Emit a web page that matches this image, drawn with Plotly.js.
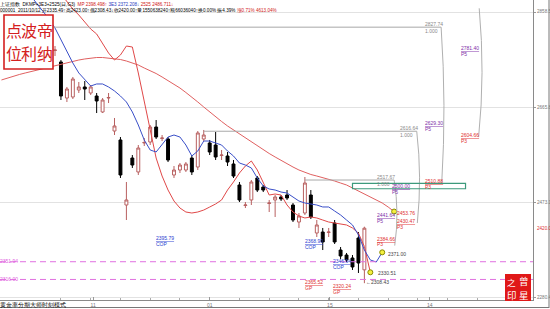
<!DOCTYPE html>
<html><head><meta charset="utf-8">
<script src="https://cdn.plot.ly/plotly-3.0.1.min.js"></script>
<style>html,body{margin:0;padding:0;background:#fff;}#chart{width:550px;height:309px;}</style>
</head><body><div id="chart"></div>
<script>
// ---- daily candles (index 0 .. 52, last = 2011/10/12) ----
const openP  = [2780.4,2757.1,2684.0,2686.1,2700.3,2706.4,2694.2,2688.1,2655.7,2684.0,
                2617.1,2598.9,2467.0,2562.3,2534.0,2592.8,2594.8,2625.2,2601.9,2600.9,
                2527.9,2538.0,2538.0,2562.3,2544.1,2600.9,2592.8,2588.7,2567.4,2566.4,
                2550.2,2507.6,2466.0,2477.2,2521.8,2503.5,2470.1,2477.2,2483.2,2487.3,
                2467.0,2432.5,2450.8,2487.3,2410.2,2412.2,2411.2,2430.5,2375.7,2365.6,
                2359.5,2400.1,2335.49];
const highP  = [2789.5,2761.1,2706.4,2726.7,2716.5,2718.5,2710.4,2694.2,2684.0,2694.2,
                2643.5,2604.9,2513.7,2568.4,2588.7,2602.9,2629.3,2639.4,2609.0,2604.9,
                2546.1,2552.2,2554.2,2568.4,2617.1,2619.2,2598.9,2615.1,2578.6,2574.5,
                2558.3,2513.7,2473.1,2517.7,2525.8,2507.6,2477.2,2487.3,2487.3,2497.4,
                2471.1,2450.8,2523.8,2497.4,2436.6,2420.4,2420.4,2436.6,2381.8,2369.7,
                2365.6,2412.2,2423.00];
const lowP   = [2769.3,2680.0,2675.9,2682.0,2694.2,2680.0,2690.1,2653.6,2653.6,2673.9,
                2609.0,2521.8,2436.6,2542.1,2527.9,2586.7,2588.7,2600.9,2596.8,2554.2,
                2521.8,2531.9,2534.0,2527.9,2538.0,2596.8,2568.4,2558.3,2558.3,2546.1,
                2521.8,2473.1,2460.9,2467.0,2493.3,2493.3,2452.8,2442.7,2475.1,2477.2,
                2432.5,2420.4,2446.8,2438.6,2402.1,2375.7,2402.1,2387.9,2357.5,2351.4,
                2335.2,2329.1,2308.43];
const closeP = [2781.4,2688.1,2702.3,2722.6,2706.4,2702.3,2706.4,2678.0,2680.0,2685.1,
                2627.3,2527.9,2477.2,2548.1,2582.6,2593.8,2625.2,2604.9,2602.9,2558.3,
                2538.0,2548.1,2550.2,2534.0,2613.1,2609.0,2574.5,2564.4,2568.4,2554.2,
                2525.8,2477.2,2467.0,2513.7,2497.4,2497.4,2471.1,2483.2,2479.2,2481.2,
                2436.6,2444.7,2511.6,2442.7,2426.5,2392.0,2412.2,2392.0,2363.6,2355.5,
                2341.3,2349.4,2420.00];

// ---- indicator lines, x = day index ----
const longMaStart = -9;
const longMa = [2720.6,2724.6,2728.7,2731.7,2734.8,2737.8,2740.8,2743.9,2746.9,
  2750.0,2753.0,2756.1,2759.1,2761.1,2763.2,2765.2,2766.2,2766.2,2765.2,
  2764.2,2762.1,2759.1,2755.0,2751.0,2744.9,2739.8,2733.7,2726.7,2719.6,
  2712.5,2704.3,2695.2,2686.1,2676.0,2665.8,2655.7,2645.5,2636.4,2627.3,
  2619.2,2611.0,2602.9,2594.8,2586.7,2578.6,2571.5,2564.4,2557.3,2550.2,
  2544.1,2538.0,2532.9,2528.9,2525.8,2522.8,2519.8,2515.7,2511.6,2507.6,
  2501.5,2495.4,2489.3,2483.2,2477.2,2471.1,2462.9,2453.76];
const blueMaStart = -4;
const blueMa = [2890.0,2874.7,2858.5,2844.3,
  2826.0,2801.7,2777.4,2755.0,2734.8,2720.6,2708.4,2712.5,2712.5,2706.4,
  2698.3,2688.1,2676.0,2655.7,2629.3,2598.9,2578.6,2574.5,2588.7,2604.9,
  2609.0,2604.9,2588.7,2566.4,2576.5,2596.8,2596.8,2592.8,2588.7,2576.5,
  2566.4,2552.2,2548.1,2542.1,2521.8,2505.6,2499.5,2497.4,2493.3,2491.3,
  2483.2,2475.1,2471.1,2469.1,2467.0,2463.0,2463.0,2454.8,2446.8,2436.6,
  2426.5,2406.2,2375.7,2355.5,2351.4,2371.00];
const redLineStart = 1;
const redLine = [2895.0,2878.8,2864.6,2852.4,2838.2,2824.0,2813.9,2795.6,2775.3,
  2761.1,2771.3,2789.5,2787.5,2734.8,2675.9,2619.2,2562.3,2525.8,2497.4,
  2475.1,2460.9,2452.8,2450.8,2452.8,2456.8,2462.9,2469.1,2477.2,2497.4,
  2513.7,2531.9,2546.1,2556.3,2538.0,2511.6,2487.3,2489.3,2487.3,2467.0,
  2452.8,2444.7,2440.7,2442.7,2440.7,2436.6,2432.5,2430.5,2428.5,2426.5,
  2420.4,2410.0,2382.8,2330.51];

// ---- drawing-tool levels ----
const fibLevels = [2827.74, 2616.64, 2517.67];
const fibStart  = [-2, 25, 42];
const fibEnd    = [64.9, 60.8, 57.0];
const fibP3     = [2510.88, 2430.47, 2384.66];
const arcA      = {top: 2866.0, bottom: 2604.66, at: 71.2};
const boxLow = 2500.00, boxHigh = 2510.88, boxFrom = 50, boxTo = 69;
const pinkLevels = [2351.94, 2316.00];

// ---- axis labels ----
const yTickVals = [2858.5, 2665.8, 2473.1, 2280.4];
const yTickText = ['2858.5','2665.8','2473.1','2280.4'];
const lastPriceLabel = '2420.0';
const xTickVals = [6.4, 26, 46.2, 63];
const xTickText = ['11','01','15','14'];
const xMinorVals = [1,6,11,16,21,26,31,36,41,46,51,56,61,66,71,76];

const idx = openP.map((v,k)=>k);
const seq = (start, arr) => arr.map((v,k)=>start+k);

const W = 533, H = 300;
const YMIN = 2274.32, YMAX = 2882.84;
const px = x => x / W, py = y => 1 - y / H;
const pv = v => (v - YMIN) / (YMAX - YMIN);
const F = 'Liberation Sans, Arial, sans-serif';

const traces = [
  {type:'candlestick', x: idx, open: openP, high: highP, low: lowP, close: closeP,
   increasing:{line:{color:'#b86060', width:1}, fillcolor:'#ffffff'},
   decreasing:{line:{color:'#000000', width:1}, fillcolor:'#000000'},
   whiskerwidth:0, hoverinfo:'skip'},
  {type:'scatter', mode:'lines', x: seq(longMaStart,longMa), y: longMa,
   line:{color:'#e06060', width:1}, hoverinfo:'skip'},
  {type:'scatter', mode:'lines', x: seq(redLineStart,redLine), y: redLine,
   line:{color:'#e04848', width:1}, hoverinfo:'skip'},
  {type:'scatter', mode:'lines', x: seq(blueMaStart,blueMa), y: blueMa,
   line:{color:'#3a4fc8', width:1}, hoverinfo:'skip'},
  {type:'scatter', mode:'markers',
   x: [longMaStart+longMa.length-1, blueMaStart+blueMa.length-1, redLineStart+redLine.length-1],
   y: [longMa[longMa.length-1], blueMa[blueMa.length-1], redLine[redLine.length-1]],
   marker:{symbol:'circle', size:5, color:'#f4f040', line:{color:'#8a8a00', width:1}},
   hoverinfo:'skip', cliponaxis:false}
];

const shapes = [];
fibLevels.forEach((lv,k)=>{
  shapes.push({type:'line', xref:'x', yref:'y', x0: fibStart[k], x1: fibEnd[k], y0: lv, y1: lv,
    line:{color:'#a8a8a8', width:1}});
  const xm = fibEnd[k] + 0.9;
  shapes.push({type:'path', xref:'x', yref:'y',
    path:`M ${fibEnd[k]},${lv} Q ${xm},${(lv+fibP3[k])/2} ${fibEnd[k]+0.1},${fibP3[k]}`,
    line:{color:'#b0b0b0', width:1}});
});
shapes.push({type:'path', xref:'x', yref:'y',
  path:`M ${arcA.at+0.1},${arcA.top} Q ${arcA.at+1.1},${(arcA.top+arcA.bottom)/2} ${arcA.at},${arcA.bottom}`,
  line:{color:'#b0b0b0', width:1}});
shapes.push({type:'rect', xref:'x', yref:'y', x0: boxFrom, x1: boxTo, y0: boxLow, y1: boxHigh,
  line:{color:'#3d9a7c', width:1.2}, fillcolor:'rgba(0,0,0,0)'});
pinkLevels.forEach(lv=>shapes.push({type:'line', xref:'paper', yref:'y', x0:0, x1:1, y0:lv, y1:lv,
  line:{color:'#e070e0', width:1, dash:'6px,4px'}}));
// stamps and frame
shapes.push({type:'rect', xref:'paper', yref:'paper', x0:px(4), x1:px(53), y0:py(69), y1:py(15),
  line:{color:'#d42020', width:1.6}, fillcolor:'#ffffff', layer:'above'});
shapes.push({type:'rect', xref:'paper', yref:'paper', x0:px(505), x1:px(531), y0:py(301), y1:py(274),
  line:{color:'#e01818', width:0}, fillcolor:'#e01818', layer:'above'});
shapes.push({type:'line', xref:'paper', yref:'paper', x0:px(549), x1:px(549), y0:py(308), y1:1,
  line:{color:'#777', width:1}});
shapes.push({type:'line', xref:'paper', yref:'paper', x0:0, x1:px(549), y0:py(307.5), y1:py(307.5),
  line:{color:'#777', width:1}});

const ann = [];
function lab(text, x, y, color, size, extra){
  ann.push(Object.assign({xref:'paper', yref:'paper', x:px(x), y:py(y), text, showarrow:false,
    xanchor:'left', yanchor:'middle', borderpad:0,
    font:{family:F, size:size||5, color}}, extra||{}));
}
// header
lab('上证指数  DKMP+3E3+2525(日,G3)  <span style="color:#d02020">MP 2398.498↑</span> <span style="color:#2a40c0">3E3 2372.208↓</span> <span style="color:#d02020">2525 2486.711↓</span>',
    -1, 3.5, '#000', 4.6);
lab('000001  2011/10/12 开2335.49↑高2423.00↑低2308.43↓收2420.00↑量1550638240↑额66036040↑换0.00% 振4.39% <span style="color:#d02020">涨0.71% 4613.04%</span>',
    -1, 10, '#000', 4.6);
// right price-axis labels
yTickVals.forEach((v,k)=>ann.push({xref:'paper', yref:'paper', x:px(536), y:pv(v), text:yTickText[k],
  showarrow:false, xanchor:'left', yanchor:'middle', borderpad:0, font:{family:F, size:4.6, color:'#777'}}));
ann.push({xref:'paper', yref:'paper', x:px(536), y:pv(closeP[closeP.length-1]), text:lastPriceLabel,
  showarrow:false, xanchor:'left', yanchor:'middle', borderpad:0, font:{family:F, size:4.6, color:'#e03030'}});
// fib level labels
const g = '#8a8a8a', pu = '#8030a8', rd = '#e03030', bl = '#2a40d0', pk = '#e060e0';
lab('2827.74', 424, 23.5, g); lab('1.000', 424, 31.5, g);
lab('2616.64', 399, 127.5, g); lab('1.000', 399, 135, g);
lab('2517.67', 376, 176.5, g); lab('1.000', 376, 184, g);
lab('<u>2781.40</u>', 460, 47.5, pu); lab('P5', 460, 53.5, pu);
lab('<u>2604.66</u>', 460, 135, rd); lab('P3', 460, 141, rd);
lab('<u>2629.30</u>', 424, 122.5, pu); lab('P5', 424, 128.5, pu);
lab('<u>2510.88</u>', 424, 180.5, rd); lab('P3', 424, 186.5, rd);
lab('<u>2500.00</u>', 391, 185.5, pu); lab('P5', 391, 191.5, pu);
lab('2453.76', 396, 213, rd);
lab('<u>2430.47</u>', 396, 220.5, rd); lab('P3', 396, 226.5, rd);
lab('<u>2441.64</u>', 376, 215, pu); lab('P5', 376, 221, pu);
lab('<u>2384.66</u>', 376, 238.5, rd); lab('P3', 376, 244.5, rd);
lab('2371.00', 387, 254, '#444');
lab('2330.51', 377, 272.5, '#444');
lab('←2308.43', 365, 282, '#444');
lab('<u>2395.79</u>', 155, 238, bl); lab('COP', 155, 244, bl);
lab('<u>2368.90</u>', 304, 241, bl); lab('COP', 304, 247, bl);
lab('<u>2346.94</u>', 332, 261, bl); lab('COP', 332, 267, bl);
lab('<u>2365.52</u>', 304, 281.5, rd); lab('GP', 304, 287.5, rd);
lab('<u>2320.24</u>', 332, 286, rd); lab('GP', 332, 292, rd);
lab('2351.94', -1, 260.5, pk); lab('2316.00', -1, 278.5, pk);
lab('黄金率分期大师时刻模式', -1, 304.5, '#000', 5.5);
// stamps
const S = 'Noto Sans CJK SC, sans-serif';
[['点',13.5,29.5],['波',29,29.5],['帝',44.5,29.5],['位',13.5,53],['利',29,53],['纳',44.5,53]].forEach(c=>
  ann.push({xref:'paper', yref:'paper', x:px(c[1]), y:py(c[2]), text:c[0], showarrow:false,
    xanchor:'center', yanchor:'middle', borderpad:0, font:{family:S, size:16, color:'#d42020'}}));
[['之',511.5,281.5,8.5],['曾',524,281,9.5],['印',511.5,295,9.5],['星',524,295,9.5]].forEach(c=>
  ann.push({xref:'paper', yref:'paper', x:px(c[1]), y:py(c[2]), text:c[0], showarrow:false,
    xanchor:'center', yanchor:'middle', borderpad:0, font:{family:S, size:c[3], color:'#ffffff'}}));

const layout = {
  width:550, height:309, margin:{l:0, r:17, t:0, b:9},
  paper_bgcolor:'#ffffff', plot_bgcolor:'#ffffff', showlegend:false,
  xaxis:{type:'linear', range:[-9.244, 80.34], rangeslider:{visible:false}, showgrid:false, zeroline:false,
    tickmode:'array', tickvals:xTickVals, ticktext:xTickText, ticks:'inside', ticklen:3, tickcolor:'#999',
    minor:{tickvals:xMinorVals, ticks:'inside', ticklen:2, tickcolor:'#aaa'},
    tickfont:{family:F, size:5, color:'#777'}, showline:true, linecolor:'#8a8a8a', linewidth:1, fixedrange:true},
  yaxis:{side:'right', range:[YMIN, YMAX], tickmode:'array', tickvals:yTickVals, showticklabels:false,
    showgrid:true, gridcolor:'#e2e2e2', gridwidth:1, zeroline:false,
    showline:true, linecolor:'#8a8a8a', linewidth:1, ticks:'outside', ticklen:2, tickcolor:'#999', fixedrange:true},
  shapes, annotations: ann
};
Plotly.newPlot('chart', traces, layout, {staticPlot:true, displayModeBar:false});
</script></body></html>
